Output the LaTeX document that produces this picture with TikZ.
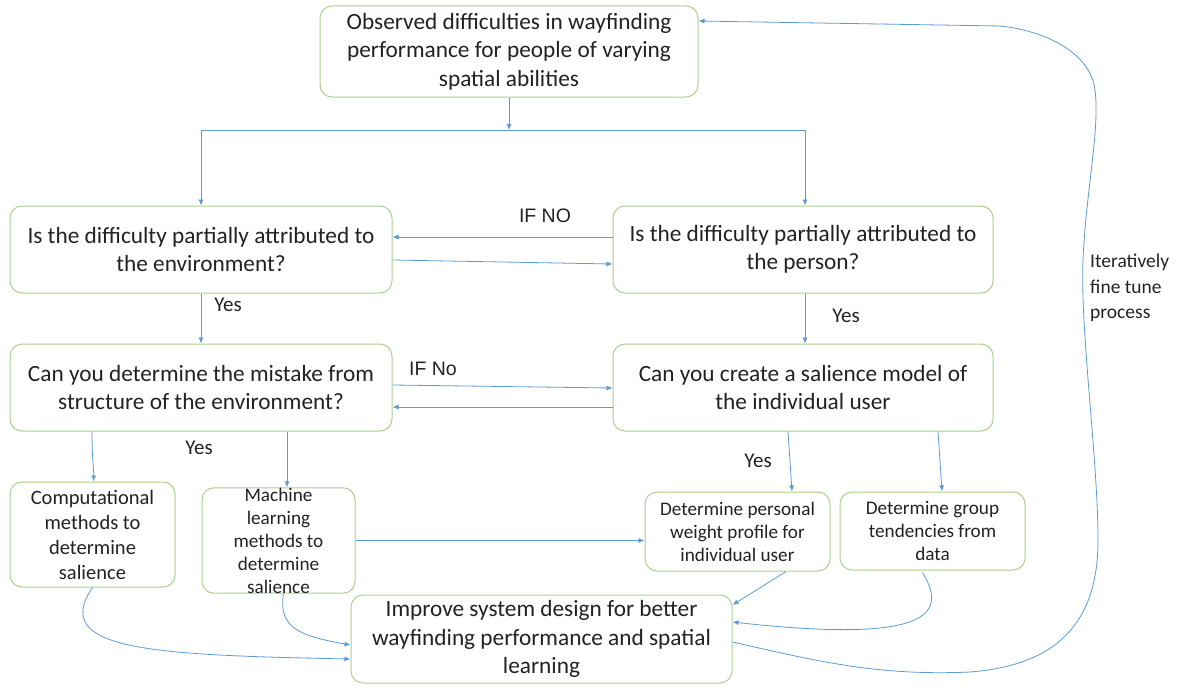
\documentclass[tikz,border=0pt]{standalone}
\usepackage{fontspec}
\setmainfont{Carlito}
\newfontfamily\arialf{Liberation Sans}
\usetikzlibrary{arrows.meta,calc}
\definecolor{boxgreen}{HTML}{A9D18E}
\definecolor{lineblue}{HTML}{5B9BD5}
\definecolor{txt}{HTML}{222222}
\begin{document}
\begin{tikzpicture}[x=1pt,y=-1pt,
  box/.style={draw=boxgreen, line width=1pt, rounded corners=12pt, align=center, text=txt, inner sep=0pt},
  big/.style={font=\fontsize{23.3}{28.5}\selectfont},
  small/.style={font=\fontsize{19.2}{23}\selectfont},
  line/.style={draw=lineblue, line width=0.8pt},
  conn/.style={line, -{Latex[length=6pt,width=5pt]}},
  lbl/.style={text=txt, font=\fontsize{21}{24}\selectfont, inner sep=0pt},
  albl/.style={text=txt, font=\arialf\fontsize{19.5}{22}\selectfont, inner sep=0pt}
]
\useasboundingbox (0,0) rectangle (1182,685);

\node[box,big,minimum width=378pt,minimum height=91pt] (obs) at (509,51.5) {Observed difficulties in wayfinding\\performance for people of varying\\spatial abilities};
\node[box,big,minimum width=382pt,minimum height=87pt] (env) at (201,249.5) {Is the difficulty partially attributed to\\the environment?};
\node[box,big,minimum width=380pt,minimum height=87pt] (per) at (803,249.5) {Is the difficulty partially attributed to\\the person?};
\node[box,big,minimum width=382pt,minimum height=87pt] (mis) at (201,387.5) {Can you determine the mistake from\\structure of the environment?};
\node[box,big,minimum width=380pt,minimum height=87pt] (sal) at (803,387.5) {Can you create a salience model of\\the individual user};
\node[box,font=\fontsize{20.5}{25}\selectfont,minimum width=165pt,minimum height=105pt] (comp) at (92.5,534.5) {Computational\\methods to\\determine\\salience};
\node[box,small,minimum width=153pt,minimum height=105pt] (mach) at (278.5,540.5) {Machine\\learning\\methods to\\determine\\salience};
\node[box,small,minimum width=185pt,minimum height=79pt] (pers) at (737.5,531.5) {Determine personal\\weight profile for\\individual user};
\node[box,small,minimum width=185pt,minimum height=78pt] (grp) at (932.5,531) {Determine group\\tendencies from\\data};
\node[box,big,minimum width=381pt,minimum height=88pt] (imp) at (541.5,639) {Improve system design for better\\wayfinding performance and spatial\\learning};

% top split
\coordinate (split) at (509,130);
\coordinate (sl) at (201,130);
\coordinate (sr) at (805,130);
\draw[conn] (obs.south) -- (split);
\draw[line] (sl) -- (sr);
\draw[conn] (sl) -- (env.north);
\draw[conn] (sr) -- (sr |- per.north);

% IF NO
\draw[conn] ($(per.west)+(0,-12.5)$) -- ($(env.east)+(0,-12.5)$);
\draw[conn] ($(env.east)+(0,10.5)$) -- ($(per.west)+(0,14.5)$);
\node[albl] (ifno) at (545,216) {IF NO};

% Yes down
\draw[conn] (env.south) -- (mis.north);
\node[lbl] (yes1) at (228,305) {Yes};
\draw[conn] (per.south -| sr) -- (sr |- sal.north);
\node[lbl] (yes2) at (846,316) {Yes};

% IF No
\draw[conn] ($(mis.east)+(0,-2.5)$) -- ($(sal.west)+(0,0.5)$);
\draw[conn] ($(sal.west)+(0,19.5)$) -- ($(mis.east)+(0,19.5)$);
\node[albl] (ifno2) at (433,369) {IF No};

% mistake to methods
\draw[conn] ($(mis.south)+(-109,0)$) .. controls (92,460) and (94,470) .. ($(comp.north)+(1,0)$);
\draw[conn] ($(mis.south)+(86,0)$) -- ($(mach.north)+(8.5,0)$);
\node[lbl] (yes3) at (199,448) {Yes};

% salience to profiles
\draw[conn] ($(sal.south)+(-15,0)$) -- ($(pers.north)+(54.5,0)$);
\draw[conn] ($(sal.south)+(135,0)$) -- ($(grp.north)+(9.5,0)$);
\node[lbl] (yes4) at (758,461) {Yes};

% machine to personal
\draw[conn] (mach.east) -- (mach.east -| pers.west);

% to improve
\draw[conn] (comp.south) .. controls (50,650) and (150,655) .. ($(imp.west)+(0,20)$);
\draw[conn] ($(mach.south)+(5,0)$) .. controls (278,628) and (300,636) .. ($(imp.west)+(0,6)$);
\draw[conn] ($(pers.south)+(48.5,0)$) -- ($(imp.east)+(0,-34)$);
\draw[conn] ($(grp.south)+(-10,2)$) .. controls (945,610) and (940,645) .. ($(imp.east)+(0,-17)$);

% loop
\coordinate (lt) at (1000,26);
\draw[line] ($(imp.east)+(0,3)$) .. controls (820,662) and (880,676) .. (970,672)
  .. controls (1060,665) and (1098,620) .. (1098,540)
  .. controls (1098,460) and (1080,330) .. (1083,260)
  .. controls (1086,190) and (1100,130) .. (1095,90)
  .. controls (1090,50) and (1040,30) .. (lt);
\draw[conn] (lt) -- ($(obs.east)+(0,-30.5)$);
\node[text=txt, font=\fontsize{19.5}{25.5}\selectfont, align=left, anchor=north west, inner sep=0pt] (iter) at (1090,254) {Iteratively\\fine tune\\process};
\end{tikzpicture}
\end{document}
